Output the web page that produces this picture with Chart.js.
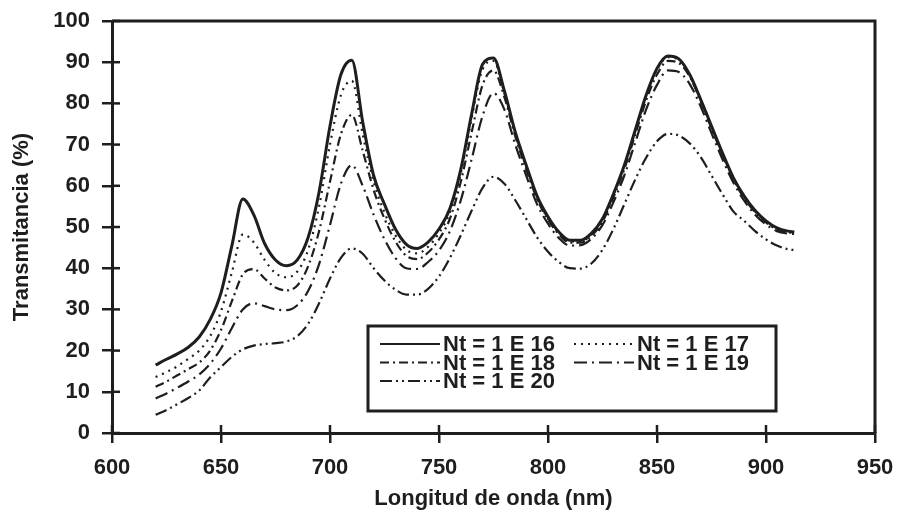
<!DOCTYPE html>
<html>
<head>
<meta charset="utf-8">
<script src="https://cdn.jsdelivr.net/npm/chart.js@4.4.1/dist/chart.umd.min.js"></script>
<style>
  body { margin: 0; background: #fff; }
  #wrap { width: 899px; height: 510px; }
</style>
</head>
<body>
<div id="wrap"><canvas id="myChart" width="899" height="510"></canvas></div>
<script>
// wavelength samples (nm)
const wavelengths = [620, 625, 630, 635, 640, 645, 650, 655, 660, 665, 670, 675, 680, 685, 690, 695,
  700, 705, 710, 715, 720, 725, 730, 735, 740, 745, 750, 755, 760, 765, 770, 775,
  780, 785, 790, 795, 800, 805, 810, 815, 820, 825, 830, 835, 840, 845, 850, 855,
  860, 865, 870, 875, 880, 885, 890, 895, 900, 905, 910, 913];

// transmittance (%) for each Nt
const t16 = [16.5, 17.9, 19.2, 20.8, 23.3, 27.5, 34, 45.5, 56.8, 53, 46, 42, 40.6, 42, 47.5, 58.5,
  74.5, 87, 90.5, 75.5, 62.5, 55.5, 49.5, 45.8, 44.8, 46.3, 49.5, 54.5, 64, 77.5, 89.5, 91,
  83, 73, 65, 57.5, 52.5, 48.8, 46.8, 46.8, 48.5, 52, 58, 65, 73.5, 82, 88.5, 91.5,
  90.8, 87, 81, 74.5, 68, 62, 57.5, 54, 51.5, 49.8, 49, 48.8];
const t17 = [13.6, 14.8, 16.2, 18, 20, 23.5, 29.5, 39, 48.2, 46.3, 42, 38.8, 37.8, 39.2, 44.5, 55,
  70, 82, 85.5, 72.5, 61, 53.5, 48, 44.5, 43.6, 45.2, 48.5, 53.5, 63, 76.5, 88.3, 90.3,
  82.5, 72.5, 64.5, 57, 52, 48.5, 46.5, 46.5, 48.2, 51.7, 57.7, 64.7, 73.2, 81.7, 88.2, 91.2,
  90.5, 86.8, 81, 74.3, 67.8, 61.8, 57.3, 53.8, 51.3, 49.6, 48.9, 48.7];
const t18 = [11.2, 12.5, 14, 15.5, 17.1, 20, 25, 32, 38.5, 39.8, 37.5, 35.3, 34.6, 35.8, 40.5, 49,
  61, 72.5, 77.2, 68.5, 59, 52, 46.5, 43, 42.2, 43.8, 47, 52, 61, 73, 84.5, 88,
  81.5, 72, 64, 56.8, 51.8, 48.2, 46.2, 46.2, 47.9, 51.3, 57.2, 64, 72.4, 80.7, 87, 90.3,
  89.8, 86.5, 80.6, 73.9, 67.5, 61.5, 57, 53.6, 51.1, 49.4, 48.7, 48.6];
const t19 = [8.4, 9.6, 11, 12.5, 14.2, 16.8, 20.5, 25.5, 30, 31.5, 30.8, 30, 29.8, 31, 34.5, 41,
  50.5, 60.5, 65, 60, 53, 47, 42.5, 40, 39.8, 41.5, 44.3, 49, 56.5, 66.5, 77, 82.5,
  78.5, 70, 62.5, 55.5, 50.8, 47.3, 45.5, 45.6, 47.2, 50.5, 56, 62.5, 70.5, 78.5, 84.5, 88,
  87.6, 84.7, 79.3, 72.8, 66.5, 60.8, 56.4, 53, 50.6, 49, 48.4, 48.3];
const t20 = [4.4, 5.6, 7, 8.5, 10.3, 13.5, 16, 18.5, 20.3, 21.2, 21.6, 21.8, 22.2, 23.5, 26.5, 31.5,
  37.5, 42.5, 44.8, 43.5, 40, 37, 34.8, 33.6, 33.6, 35, 38, 42.5, 48, 54, 59.5, 62.2,
  60.5, 56.5, 52, 47.5, 44, 41.5, 40, 39.9, 41.2, 44.5, 49.5, 55.5, 61.5, 66.8, 70.8, 72.6,
  72.2, 70.3, 67, 62.5, 58, 53.8, 51.5, 49, 47, 45.5, 44.6, 44.4];

const seriesLabels = ['Nt = 1 E 16', 'Nt = 1 E 17', 'Nt = 1 E 18', 'Nt = 1 E 19', 'Nt = 1 E 20'];
const seriesValues = [t16, t17, t18, t19, t20];
const seriesDash = [[], [2, 5], [9, 4, 2, 4], [13, 5, 2, 5], [12, 4, 2, 4, 2, 4]];

const ink = '#1e1e1e';
const fontFamily = '"Liberation Sans", Arial, sans-serif';

// frame on top/right + inner half of the tick marks
const framePlugin = {
  id: 'frame',
  afterDraw(chart) {
    const { ctx, chartArea: a, scales } = chart;
    ctx.save();
    ctx.strokeStyle = ink;
    ctx.lineWidth = 3;
    ctx.beginPath();
    ctx.moveTo(a.left, a.top);
    ctx.lineTo(a.right, a.top);
    ctx.lineTo(a.right, a.bottom);
    ctx.stroke();
    ctx.lineWidth = 2.5;
    scales.y.ticks.forEach(t => {
      const y = scales.y.getPixelForValue(t.value);
      ctx.beginPath();
      ctx.moveTo(a.left, y);
      ctx.lineTo(a.left + 8, y);
      ctx.stroke();
    });
    scales.x.ticks.forEach(t => {
      const x = scales.x.getPixelForValue(t.value);
      ctx.beginPath();
      ctx.moveTo(x, a.bottom);
      ctx.lineTo(x, a.bottom - 8);
      ctx.stroke();
    });
    ctx.restore();
  }
};

// boxed legend inside the plot, two columns
const boxLegend = {
  id: 'boxLegend',
  afterDraw(chart) {
    const { ctx, chartArea: a } = chart;
    const bx = a.left + 256, by = a.bottom - 107, bw = 408, bh = 85;
    ctx.save();
    ctx.fillStyle = '#fff';
    ctx.fillRect(bx, by, bw, bh);
    ctx.strokeStyle = ink;
    ctx.lineWidth = 3;
    ctx.strokeRect(bx, by, bw, bh);
    ctx.font = 'bold 22px ' + fontFamily;
    ctx.textBaseline = 'middle';
    ctx.fillStyle = ink;
    chart.data.datasets.forEach((ds, i) => {
      const col = i % 2, row = Math.floor(i / 2);
      const x0 = bx + 12 + col * 194;
      const y0 = by + 18 + row * 18.5;
      ctx.beginPath();
      ctx.lineWidth = 2;
      ctx.setLineDash(ds.borderDash);
      ctx.moveTo(x0, y0);
      ctx.lineTo(x0 + 60, y0);
      ctx.stroke();
      ctx.setLineDash([]);
      ctx.fillText(ds.label, x0 + 63, y0 + 1);
    });
    ctx.restore();
  }
};

const datasets = seriesLabels.map((label, i) => ({
  label,
  data: wavelengths.map((w, j) => ({ x: w, y: seriesValues[i][j] })),
  borderColor: ink,
  borderWidth: i === 0 ? 3 : 2.2,
  borderDash: seriesDash[i],
  pointRadius: 0,
  fill: false,
  cubicInterpolationMode: 'monotone'
}));

new Chart(document.getElementById('myChart'), {
  type: 'line',
  data: { datasets },
  options: {
    responsive: false,
    animation: false,
    layout: { padding: { top: 21, right: 24, left: 0, bottom: 0 } },
    plugins: { legend: { display: false }, tooltip: { enabled: false } },
    scales: {
      x: {
        type: 'linear',
        min: 600, max: 950,
        afterFit(scale) {
          scale.height = 77;
          scale.paddingLeft = 0;
          scale.paddingRight = 0;
        },
        ticks: { stepSize: 50, color: ink, padding: 12, font: { family: fontFamily, size: 22, weight: 'bold' } },
        grid: { drawOnChartArea: false, color: ink, lineWidth: 2.5, tickLength: 10 },
        border: { color: ink, width: 3 },
        title: {
          display: true, text: 'Longitud de onda (nm)', color: ink,
          font: { family: fontFamily, size: 22, weight: 'bold', lineHeight: 1 },
          padding: { top: 0, bottom: 0 }
        }
      },
      y: {
        min: 0, max: 100,
        afterFit(scale) {
          scale.width = 112;
          scale.paddingTop = 0;
          scale.paddingBottom = 0;
        },
        ticks: { stepSize: 10, color: ink, padding: 12, font: { family: fontFamily, size: 22, weight: 'bold' } },
        grid: { drawOnChartArea: false, color: ink, lineWidth: 2.5, tickLength: 10 },
        border: { color: ink, width: 3 },
        title: {
          display: true, text: 'Transmitancia (%)', color: ink,
          font: { family: fontFamily, size: 22, weight: 'bold', lineHeight: 1 },
          padding: { top: 11, bottom: 0 }
        }
      }
    }
  },
  plugins: [framePlugin, boxLegend]
});
</script>
</body>
</html>
